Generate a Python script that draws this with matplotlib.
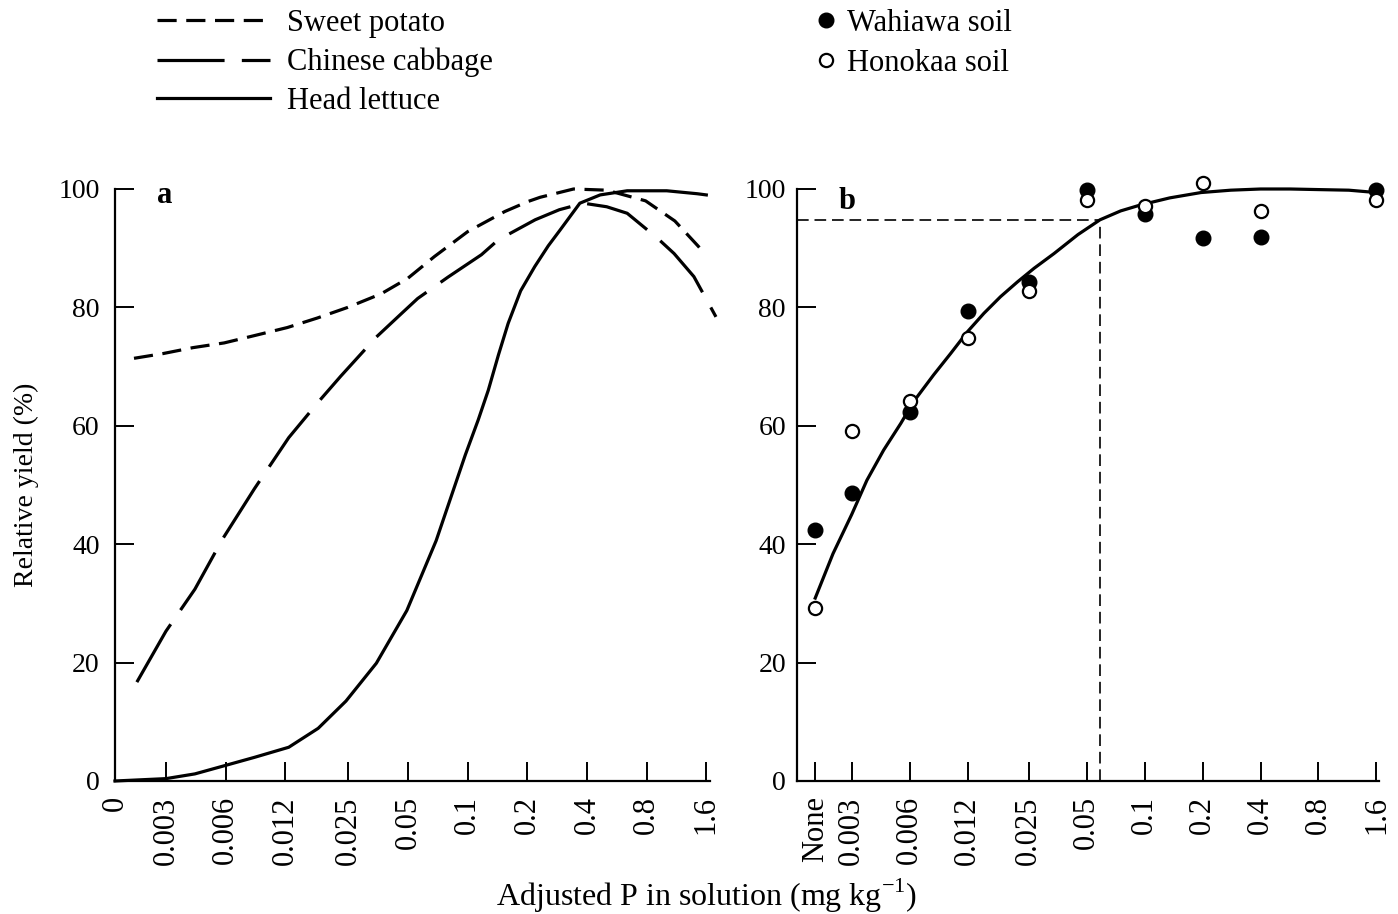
import matplotlib
matplotlib.use("Agg")
import matplotlib.pyplot as plt
from matplotlib.lines import Line2D
from matplotlib.ticker import FixedLocator, FixedFormatter, NullLocator

plt.rcParams['font.family'] = ['Liberation Serif', 'DejaVu Serif']
plt.rcParams['mathtext.fontset'] = 'custom'
plt.rcParams['mathtext.rm'] = 'Liberation Serif'

# ---- data -------------------------------------------------------------
# P concentrations (mg/kg) on a log2 axis; zero / untreated drawn at a stand-in position
P_ZERO_A = 0.00166
P_NONE_B = 0.00194
P_TICKS = [0.003, 0.006, 0.012, 0.025, 0.05, 0.1, 0.2, 0.4, 0.8, 1.6]
P_TICK_LABELS = ['0.003', '0.006', '0.012', '0.025', '0.05', '0.1', '0.2', '0.4', '0.8', '1.6']

# panel a: response curves of three crops
sweet_potato_p = [0.00207, 0.0029, 0.0041, 0.0059, 0.0083, 0.0123, 0.0174, 0.0248, 0.0366,
                  0.0498, 0.068, 0.1, 0.154, 0.202, 0.232, 0.342, 0.503, 0.79, 1.11, 1.46, 1.56]
sweet_potato_y = [71.4, 72.2, 73.2, 74.0, 75.2, 76.6, 78.2, 80.0, 82.3,
                  84.9, 88.6, 92.8, 96.2, 97.9, 98.6, 100.0, 99.8, 98.0, 94.6, 90.3, 89.1]

chinese_cabbage_p = [0.00214, 0.003, 0.0042, 0.0058, 0.0084, 0.0125, 0.0176, 0.0229, 0.0346,
                     0.0461, 0.0559, 0.0794, 0.1173, 0.1425, 0.219, 0.29, 0.384, 0.503, 0.638,
                     0.906, 1.1, 1.385, 1.79]
chinese_cabbage_y = [16.7, 25.3, 32.4, 40.9, 49.4, 58.0, 64.0, 68.4, 75.0,
                     78.9, 81.5, 85.1, 88.9, 91.4, 94.8, 96.5, 97.6, 97.0, 95.9,
                     91.7, 89.1, 85.2, 78.4]

head_lettuce_p = [P_ZERO_A, 0.003, 0.0042, 0.0058, 0.0084, 0.0125, 0.0176, 0.0243, 0.0346,
                  0.0493, 0.0693, 0.0973, 0.113, 0.127, 0.143, 0.16, 0.185, 0.218, 0.255,
                  0.293, 0.368, 0.466, 0.638, 1.01, 1.44, 1.6]
head_lettuce_y = [0.0, 0.4, 1.2, 2.5, 4.0, 5.7, 8.9, 13.5, 19.9,
                  28.8, 40.6, 55.1, 61.0, 66.0, 72.0, 77.3, 82.8, 86.9, 90.4,
                  93.1, 97.6, 99.0, 99.7, 99.7, 99.2, 99.0]

# panel b: observed yields on two soils and the fitted response
soil_p = [P_NONE_B, 0.003, 0.006, 0.012, 0.025, 0.05, 0.1, 0.2, 0.4, 1.6]
wahiawa_y = [42.4, 48.7, 62.4, 79.4, 84.3, 99.9, 95.8, 91.7, 91.9, 99.9]
honokaa_y = [29.3, 59.2, 64.2, 74.8, 82.7, 98.1, 97.2, 101.0, 96.2, 98.1]

fit_p = [P_NONE_B, 0.0024, 0.003, 0.0036, 0.0044, 0.0054, 0.0063, 0.008, 0.0098, 0.012,
         0.0146, 0.0178, 0.0218, 0.0266, 0.0338, 0.045, 0.0586, 0.075, 0.095, 0.135,
         0.196, 0.28, 0.4, 0.57, 0.8, 1.15, 1.6]
fit_y = [30.9, 38.4, 45.0, 50.8, 55.9, 60.4, 64.1, 68.6, 72.2, 75.9,
         79.0, 81.8, 84.3, 86.6, 89.1, 92.3, 94.8, 96.3, 97.3, 98.5,
         99.4, 99.8, 100.0, 100.0, 99.9, 99.8, 99.4]

CRITICAL_P = 0.0586
CRITICAL_YIELD = 94.8

# ---- figure -----------------------------------------------------------
W, H = 1398, 914
fig = plt.figure(figsize=(W / 100, H / 100), dpi=100)


def px_box(x0, y0, x1, y1):
    return [x0 / W, 1 - y1 / H, (x1 - x0) / W, (y1 - y0) / H]


ax_a = fig.add_axes(px_box(115, 189, 710, 781))
ax_b = fig.add_axes(px_box(797, 189, 1379, 781))

CURVE_LW = 2.3
SP_DASH = (0, (6.0, 3.0))
CC_DASH = (0, (21.0, 5.4))

for ax in (ax_a, ax_b):
    ax.set_xscale('log', base=2)
    ax.set_ylim(0, 100)
    for side in ('top', 'right'):
        ax.spines[side].set_visible(False)
    for side in ('left', 'bottom'):
        ax.spines[side].set_linewidth(1.6)
    ax.xaxis.set_minor_locator(NullLocator())
    ax.set_yticks([0, 20, 40, 60, 80, 100])
    ax.tick_params(axis='both', direction='in', length=14, width=1.4)
    ax.tick_params(axis='y', labelsize=20, pad=11)
    ax.tick_params(axis='x', labelsize=22, labelrotation=90, pad=11)

# panel a
ax_a.set_xlim(P_ZERO_A, 1.67)
ax_a.xaxis.set_major_locator(FixedLocator([P_ZERO_A] + P_TICKS))
ax_a.xaxis.set_major_formatter(FixedFormatter(['0'] + P_TICK_LABELS))
ax_a.plot(sweet_potato_p, sweet_potato_y, color='black', lw=CURVE_LW, linestyle=SP_DASH,
          clip_on=False)
ax_a.plot(chinese_cabbage_p, chinese_cabbage_y, color='black', lw=CURVE_LW, linestyle=CC_DASH,
          clip_on=False)
ax_a.plot(head_lettuce_p, head_lettuce_y, color='black', lw=CURVE_LW, clip_on=False)
ax_a.text(0.07, 0.976, 'a', transform=ax_a.transAxes, fontsize=22, fontweight='bold',
          va='baseline', ha='left')
ax_a.set_ylabel('Relative yield (%)', fontsize=20, labelpad=14)

# panel b
ax_b.set_xlim(0.00156, 1.65)
ax_b.xaxis.set_major_locator(FixedLocator([P_NONE_B] + P_TICKS))
ax_b.xaxis.set_major_formatter(FixedFormatter(['None'] + P_TICK_LABELS))
ax_b.tick_params(axis='y', pad=8)
ax_b.plot([0.00156, CRITICAL_P], [CRITICAL_YIELD, CRITICAL_YIELD], color='black', lw=1.2,
          linestyle=(0, (7, 3.5)))
ax_b.plot([CRITICAL_P, CRITICAL_P], [0, CRITICAL_YIELD], color='black', lw=1.2,
          linestyle=(0, (7, 3.5)))
ax_b.plot(fit_p, fit_y, color='black', lw=2.3, clip_on=False, zorder=3)
ax_b.plot(soil_p, wahiawa_y, 'o', color='black', ms=10.5, clip_on=False, zorder=4)
ax_b.plot(soil_p, honokaa_y, 'o', mfc='white', mec='black', mew=1.6, ms=9.5,
          clip_on=False, zorder=5)
ax_b.text(0.072, 0.966, 'b', transform=ax_b.transAxes, fontsize=22, fontweight='bold',
          va='baseline', ha='left')

fig.text(707 / W, 1 - 896 / H, r'Adjusted P in solution (mg kg$^{\mathregular{-1}}$)',
         fontsize=23, ha='center', va='center')

# legends
crop_handles = [
    Line2D([], [], color='black', lw=CURVE_LW, linestyle=SP_DASH),
    Line2D([], [], color='black', lw=CURVE_LW, linestyle=CC_DASH),
    Line2D([], [], color='black', lw=CURVE_LW),
]
fig.legend(crop_handles, ['Sweet potato', 'Chinese cabbage', 'Head lettuce'],
           loc='upper left', bbox_to_anchor=(157 / W, 1 - 9 / H), frameon=False,
           fontsize=22, handlelength=3.7, handletextpad=0.55, labelspacing=0.32,
           borderpad=0, borderaxespad=0)

soil_handles = [
    Line2D([], [], color='black', marker='o', linestyle='none', ms=10.5),
    Line2D([], [], marker='o', linestyle='none', mfc='white', mec='black', mew=1.6, ms=9.5),
]
fig.legend(soil_handles, ['Wahiawa soil', 'Honokaa soil'],
           loc='upper left', bbox_to_anchor=(815 / W, 1 - 9 / H), frameon=False,
           fontsize=22, handlelength=0.7, handletextpad=0.35, labelspacing=0.35,
           borderpad=0, borderaxespad=0)

fig.savefig('out.png', dpi=100)
